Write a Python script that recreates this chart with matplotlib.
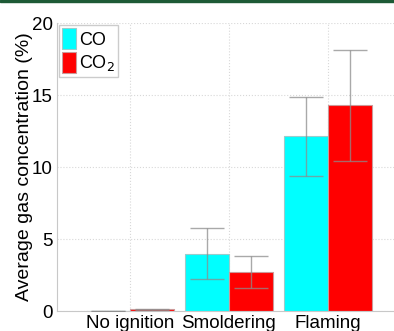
import numpy as np
import matplotlib
matplotlib.use("Agg")
import matplotlib.pyplot as plt
from matplotlib.patches import Rectangle

categories = ["No ignition", "Smoldering", "Flaming"]
co_mean = [0.02, 3.98, 12.13]
co_err = [0.0, 1.76, 2.75]
co2_mean = [0.12, 2.69, 14.3]
co2_err = [0.04, 1.11, 3.85]

plt.rcParams["font.family"] = ["Liberation Sans", "DejaVu Sans"]

fig = plt.figure(figsize=(3.94, 3.31), dpi=100)
ax = fig.add_axes([0.1447, 0.0604, 0.8553, 0.870])

x = np.arange(1, len(categories) + 1)
w = 0.444
ekw = dict(ecolor=(0.55, 0.55, 0.55), elinewidth=1.0, capsize=12,
           capthick=1.0, alpha=0.75)
ax.bar(x - w / 2, co_mean, w, color="#00ffff", edgecolor="#9cc",
       linewidth=0.8, label="CO", zorder=2)
ax.bar(x + w / 2, co2_mean, w, color="#ff0000", edgecolor="#c99",
       linewidth=0.8, label="CO$_2$", zorder=2)
ax.errorbar(x - w / 2, co_mean, yerr=co_err, fmt="none", zorder=3, **ekw)
ax.errorbar(x + w / 2, co2_mean, yerr=co2_err, fmt="none", zorder=3, **ekw)

ax.set_xlim(0.263, 3.667)
ax.set_ylim(0, 20)
ax.set_yticks([0, 5, 10, 15, 20])
ax.set_xticks(x)
ax.set_xticklabels(categories)
ax.tick_params(length=0, labelsize=13.5, pad=3)
ax.set_ylabel("Average gas concentration (%)", fontsize=14)
ax.yaxis.set_label_coords(-0.07, 0.5)
ax.grid(True, ls=":", color="#d8d8d8", lw=0.8, zorder=0)
ax.set_axisbelow(True)
for s in ["top", "right"]:
    ax.spines[s].set_visible(False)
for s in ["left", "bottom"]:
    ax.spines[s].set_color("#c8c8c8")

leg = ax.legend(loc="upper left", fontsize=13, borderaxespad=0.1,
                handlelength=0.75, handleheight=1.35, handletextpad=0.15,
                borderpad=0.2, labelspacing=0.2, fancybox=False)
leg.get_frame().set_edgecolor("#c0c0c0")

fig.patches.append(Rectangle((0, 0.994), 1, 0.006, transform=fig.transFigure,
                             color="#1d5a36", zorder=5))

fig.savefig("out.png", dpi=100)
